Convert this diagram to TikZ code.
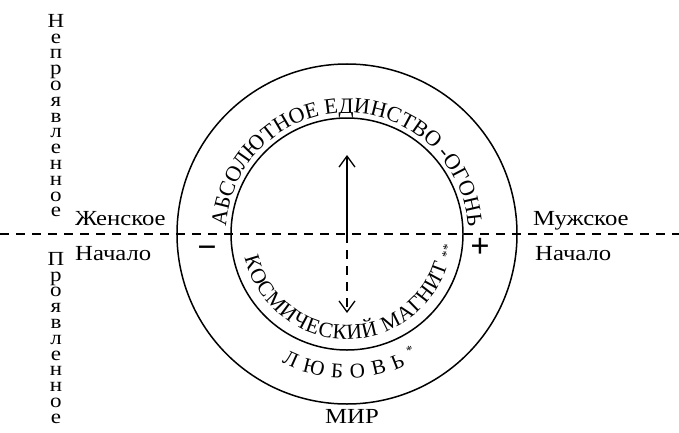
\documentclass[tikz,border=0pt]{standalone}
\usepackage{fontspec}
\setmainfont{Liberation Serif}
\newfontfamily\widefont{Liberation Serif}[FakeStretch=1.15]
\usetikzlibrary{arrows.meta, decorations.text}

\begin{document}
\begin{tikzpicture}[
        x=1pt, y=1pt,
        ring/.style={line width=1.5pt},
        axis/.style={line width=1.3pt, dash pattern=on 9pt off 7pt},
        lbl/.style={font=\widefont\fontsize{21.5}{24}\selectfont, inner sep=0pt},
        vtext/.style={align=center, inner sep=0pt,
                      font={\widefont\fontsize{20}{15.8}\selectfont\lineskiplimit-20pt\relax}},
        sign/.style={font=\fontsize{34}{34}\selectfont\bfseries, inner sep=0pt},
        star/.style={font=\fontsize{13}{13}\selectfont, inner sep=0pt},
        a/.style={-{Straight Barb[length=11pt, width=16pt]}, line width=1.3pt},
      ]
        \useasboundingbox (0,0) rectangle (679,432);
        \coordinate (c) at (347,198);
        % два круга
        \draw[ring] (c) circle[radius=170];
        \draw[ring] (c) circle[radius=116];
        % оси
        \coordinate (west) at (0,198);
        \coordinate (east) at (679,198);
        \draw[axis] (west) -- (east);
        \coordinate (up) at (347,277);
        \coordinate (down) at (347,119);
        \draw[a] (c) -- (up);
        \draw[a, dash pattern=on 9pt off 7pt] (c) -- (down);
        % надписи по кругу
        \path[decorate, decoration={text along path, text align=center,
              text={|\fontsize{22}{22}\selectfont|АБСОЛЮТНОЕ ЕДИНСТВО -ОГОНЬ}}]
          ([shift={(180:121)}]c) arc[start angle=180, end angle=0, radius=121];
        \path[decorate, decoration={text along path, text align=fit to path,
              text={|\fontsize{21.5}{21.5}\selectfont|КОСМИЧЕСКИЙ МАГНИТ}}]
          ([shift={(193:105)}]c) arc[start angle=193, end angle=343, radius=105];
        \path[decorate, decoration={text along path, text align=fit to path,
              text={|\fontsize{21}{21}\selectfont|ЛЮБОВЬ}}]
          ([shift={(243:144)}]c) arc[start angle=243, end angle=294, radius=144];
        \node[star, rotate=80] (magstar) at (447,181) {**};
        \node[star, rotate=25] (lovestar) at (410,82) {*};
        % знаки
        \node[sign] (minus) at (207,180) {−};
        \node[sign] (plus) at (480,184) {+};
        % подписи
        \node[lbl, anchor=base west] (fem) at (75,207) {Женское};
        \node[lbl, anchor=base west] (femb) at (75,172) {Начало};
        \node[lbl, anchor=base west] (male) at (533,207) {Мужское};
        \node[lbl, anchor=base west] (maleb) at (535,172) {Начало};
        \node[lbl, anchor=base] (world) at (352,9) {МИР};
        % вертикальные слова
        \node[vtext, anchor=north] (unmanif) at (56,418) {Н\\е\\п\\р\\о\\я\\в\\л\\е\\н\\н\\о\\е};
        \node[vtext, anchor=north] (manif) at (56,180) {П\\р\\о\\я\\в\\л\\е\\н\\н\\о\\е};
      \end{tikzpicture}
\end{document}
